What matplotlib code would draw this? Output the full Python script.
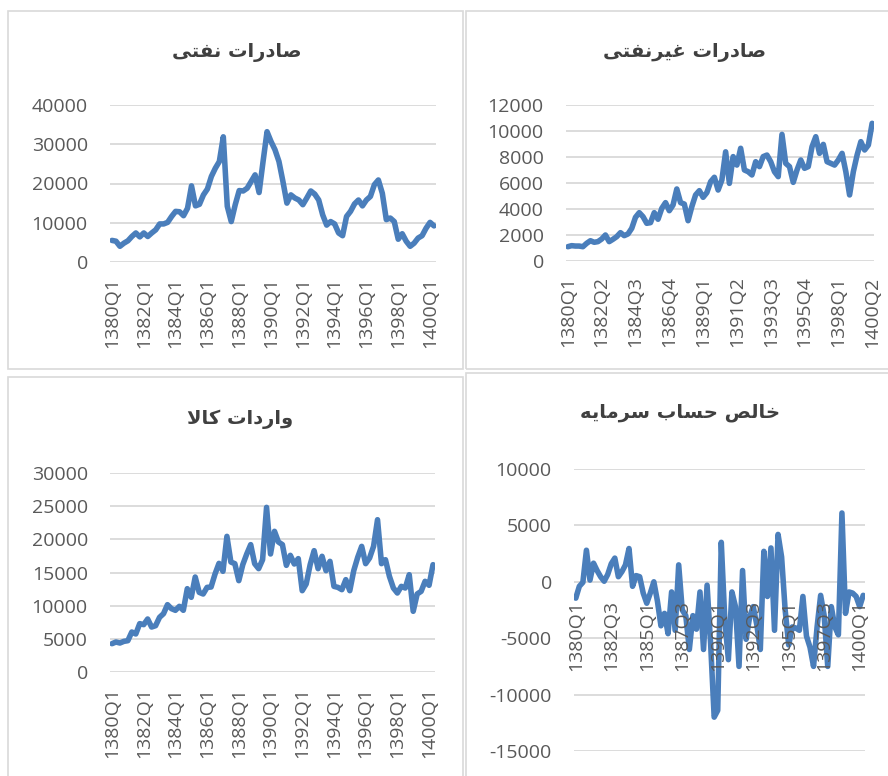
import numpy as np
import matplotlib.pyplot as plt
from matplotlib.patches import Rectangle

# quarterly categories 1380Q1 .. 1400Q2
quarters = [f"{y}Q{q}" for y in range(1380, 1401) for q in range(1, 5)][:82]

oil_exports = [5500, 5300, 4000, 4800, 5400, 6500, 7400, 6400, 7400, 6500,
               7400, 8200, 9700, 9700, 10100, 11600, 12900, 12800, 11800, 13700,
               19400, 14300, 14700, 17100, 18600, 21800, 23900, 25600, 31900, 14200,
               10300, 14600, 18200, 18100, 18800, 20500, 22200, 17700, 25600, 33200,
               30700, 28600, 25600, 20500, 15000, 17100, 16300, 15800, 14600, 16300,
               18100, 17300, 15800, 12000, 9400, 10300, 9700, 7400, 6700, 11600,
               12900, 14800, 15800, 14300, 15800, 16700, 19700, 20900, 17500, 10800,
               11200, 10300, 5800, 7200, 5300, 4000, 4800, 6100, 6700, 8600,
               10100, 9200]

nonoil_exports = [1100, 1180, 1150, 1150, 1100, 1360, 1560, 1440, 1490, 1690,
                  2000, 1490, 1670, 1870, 2180, 1950, 2080, 2510, 3360, 3720,
                  3410, 2900, 2950, 3720, 3210, 4050, 4490, 3870, 4310, 5540,
                  4490, 4380, 3100, 4180, 5080, 5410, 4900, 5260, 6100, 6440,
                  5460, 6230, 8400, 5970, 8030, 7380, 8670, 7000, 6870, 6620,
                  7640, 7260, 8030, 8150, 7640, 6870, 6490, 9740, 7510, 7260,
                  6050, 7000, 7770, 7130, 7260, 8790, 9560, 8280, 8970, 7640,
                  7510, 7380, 7770, 8280, 6870, 5080, 6870, 8150, 9180, 8540,
                  8920, 10590]

imports = [4270, 4520, 4370, 4620, 4720, 6030, 5730, 7290, 7140, 7990,
           6780, 6980, 8240, 8790, 10150, 9550, 9300, 9900, 9300, 12560,
           11260, 14320, 12010, 11760, 12760, 12810, 14770, 16380, 15180, 20450,
           16580, 16330, 13770, 16180, 17790, 19200, 16330, 15580, 16930, 24820,
           17790, 21210, 19600, 19200, 16080, 17590, 16280, 17090, 12260, 13270,
           16180, 18290, 15580, 17440, 15280, 16680, 12910, 12760, 12410, 13920,
           12260, 15280, 17290, 18940, 16330, 17190, 18940, 22960, 16330, 16930,
           14420, 12660, 11910, 12910, 12660, 14670, 9150, 11760, 12160, 13670,
           13070, 16180]

capital_account = [-1450, -400, -50, 2800, 150, 1650, 1000, 450, 50, 650,
                   1600, 2100, 450, 900, 1500, 2950, -400, 550, 450, -1000,
                   -1900, -1000, 0, -1700, -3900, -2800, -4600, -900, -4300, 1500,
                   -2500, -3000, -6000, -3000, -4200, -900, -6000, -300, -5500, -12000,
                   -11400, 3500, -3400, -6900, -900, -2200, -7500, 1000, -5100, -3100,
                   -2200, -3800, -6000, 2700, -1300, 3000, -4300, 4200, 2200, -2500,
                   -5600, -4000, -4100, -4300, -1300, -4800, -5800, -7500, -4000, -1200,
                   -3000, -7500, -2200, -4000, -4700, 6100, -2800, -900, -1000, -1300,
                   -2200, -1200]

titles = ["صادرات نفتی", "صادرات غیرنفتی", "واردات کالا", "خالص حساب سرمایه"]

# contextual forms (isolated, final, initial, medial) for the letters used
FORMS = {
    'ا': ('\uFE8D', '\uFE8E', None, None),
    'ب': ('\uFE8F', '\uFE90', '\uFE91', '\uFE92'),
    'ت': ('\uFE95', '\uFE96', '\uFE97', '\uFE98'),
    'ح': ('\uFEA1', '\uFEA2', '\uFEA3', '\uFEA4'),
    'خ': ('\uFEA5', '\uFEA6', '\uFEA7', '\uFEA8'),
    'د': ('\uFEA9', '\uFEAA', None, None),
    'ر': ('\uFEAD', '\uFEAE', None, None),
    'س': ('\uFEB1', '\uFEB2', '\uFEB3', '\uFEB4'),
    'ص': ('\uFEB9', '\uFEBA', '\uFEBB', '\uFEBC'),
    'غ': ('\uFECD', '\uFECE', '\uFECF', '\uFED0'),
    'ف': ('\uFED1', '\uFED2', '\uFED3', '\uFED4'),
    'ل': ('\uFEDD', '\uFEDE', '\uFEDF', '\uFEE0'),
    'م': ('\uFEE1', '\uFEE2', '\uFEE3', '\uFEE4'),
    'ن': ('\uFEE5', '\uFEE6', '\uFEE7', '\uFEE8'),
    'ه': ('\uFEE9', '\uFEEA', '\uFEEB', '\uFEEC'),
    'و': ('\uFEED', '\uFEEE', None, None),
    'ی': ('\uFBFC', '\uFBFD', '\uFBFE', '\uFBFF'),
    'ک': ('\uFB8E', '\uFB8F', '\uFB90', '\uFB91'),
}


def joins_next(c):
    return c in FORMS and FORMS[c][2] is not None


def shape(text):
    # pick joined letter forms and reverse to visual (right-to-left) order
    out = []
    i = 0
    n = len(text)
    while i < n:
        c = text[i]
        if c not in FORMS:
            out.append(c)
            i += 1
            continue
        p = i > 0 and joins_next(text[i - 1])
        if c == 'ل' and i + 1 < n and text[i + 1] == 'ا':
            out.append('\uFEFC' if p else '\uFEFB')
            i += 2
            continue
        q = joins_next(c) and i + 1 < n and text[i + 1] in FORMS
        iso, fin, ini, med = FORMS[c]
        out.append(med if (p and q) else fin if p else ini if q else iso)
        i += 1
    return ''.join(reversed(out))


W, H = 888, 776
fig = plt.figure(figsize=(W / 100, H / 100), dpi=100)

BLUE = '#4A7EBB'
GRID = '#D9D9D9'
TXT = '#595959'


def px_rect(l, t, r, b):
    return [l / W, 1 - b / H, (r - l) / W, (b - t) / H]


# chart-area borders
for l, t, r, b in [(8, 11, 463, 369), (466, 11, 892, 369), (8, 377, 463, 780), (466, 373, 892, 780)]:
    fig.patches.append(Rectangle((l / W, 1 - b / H), (r - l) / W, (b - t) / H,
                                 transform=fig.transFigure, fill=False,
                                 edgecolor=GRID, lw=1.2))


def panel(rect, values, step, ylim, yticks, title, tx, ty, zero_axis=False, xpad=11):
    ax = fig.add_axes(px_rect(*rect))
    if zero_axis:
        ax.spines['bottom'].set_position(('data', 0))
    ax.set_axisbelow(False)  # category labels sit over the line
    x = np.arange(len(values))
    for yt in yticks:
        ax.axhline(yt, color=GRID, lw=1.3, zorder=1)
    ax.plot(x, values, color=BLUE, lw=4.0, solid_joinstyle='round',
            solid_capstyle='round', zorder=2)
    ax.set_xlim(-0.5, len(values) - 0.5)
    ax.set_ylim(*ylim)
    ax.set_yticks(yticks)
    ax.set_yticklabels([str(v) for v in yticks])
    ax.set_xticks(x[::step])
    ax.set_xticklabels(quarters[::step])
    for s in ax.spines.values():
        s.set_visible(False)
    ax.tick_params(axis='both', length=0, labelsize=14, labelcolor=TXT)
    ax.tick_params(axis='y', pad=16)
    ax.tick_params(axis='x', pad=xpad, labelrotation=90)
    for lab in ax.get_xticklabels() + ax.get_yticklabels():
        lab.set_family(['Open Sans', 'DejaVu Sans'])
    ax.patch.set_visible(False)
    fig.text(tx / W, 1 - ty / H, shape(title), ha='center', va='center',
             fontsize=14, fontweight='bold', color='#404040',
             family=['DejaVu Sans'])
    return ax


panel((110, 105, 436, 262), oil_exports, 8, (0, 40000), list(range(0, 40001, 10000)),
      titles[0], 237, 52)
panel((566, 105, 874, 261), nonoil_exports, 9, (0, 12000), list(range(0, 12001, 2000)),
      titles[1], 685, 52)
panel((110, 473, 435, 672), imports, 8, (0, 30000), list(range(0, 30001, 5000)),
      titles[2], 240, 419)
panel((574, 469, 865, 751), capital_account, 10, (-15000, 10000), list(range(-15000, 10001, 5000)),
      titles[3], 680, 413, zero_axis=True, xpad=13)

fig.savefig('out.png', dpi=100)
